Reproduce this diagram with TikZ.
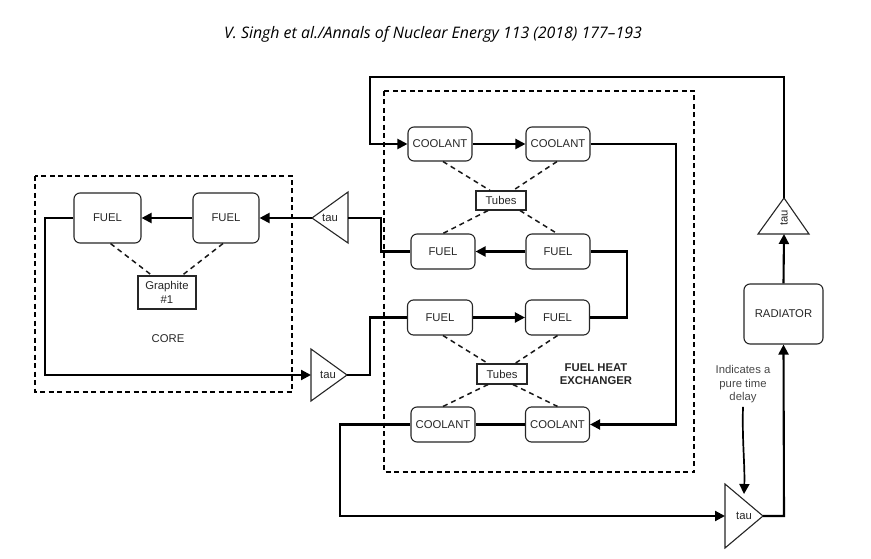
\documentclass[tikz,border=0pt]{standalone}
\usepackage{fontspec}
\setmainfont{Liberation Sans}
\newfontfamily\hdrfont{Open Sans}
\usetikzlibrary{arrows.meta,calc}
\begin{document}
\begin{tikzpicture}[x=1pt,y=-1pt,
  lab/.style={font=\fontsize{11.3}{13.5}\selectfont, text=black!85},
  rbox/.style={lab, draw=black!85, line width=1.1pt, rounded corners=6pt, inner sep=0pt, fill=white},
  sbox/.style={lab, draw=black!85, line width=1.1pt, inner sep=0pt, fill=white, align=center},
  flow/.style={line width=2.1pt, black},
  arr/.style={-{Triangle[length=10pt,width=10pt]}},
  region/.style={line width=2pt, dash pattern=on 5pt off 3.5pt},
  link/.style={line width=1.5pt, dash pattern=on 5pt off 4pt, black!90},
  tri/.style={draw=black!85, line width=1.1pt, fill=white},
]
\path[use as bounding box] (0,0) rectangle (871,559);

% header
\node[font=\hdrfont\itshape\fontsize{15.9}{17}\selectfont, text=black] (hdr) at (433,34)
  {V. Singh et al./Annals of Nuclear Energy 113 (2018) 177–193};

% regions
\draw[region] (35,176) rectangle (292,392);
\draw[region] (384,91) rectangle (694,472);

% core nodes
\node[rbox, minimum width=67pt, minimum height=50pt] (cF1) at (107.5,218) {FUEL};
\node[rbox, minimum width=66pt, minimum height=50pt] (cF2) at (226,218) {FUEL};
\node[sbox, minimum width=58pt, minimum height=33pt] (gr) at (167,292.5) {Graphite\\\#1};
\node[lab] (core) at (168,339) {CORE};

% heat exchanger nodes
\node[rbox, minimum width=64pt, minimum height=34pt] (C1) at (440,144) {COOLANT};
\node[rbox, minimum width=64pt, minimum height=34pt] (C2) at (558,144) {COOLANT};
\node[sbox, minimum width=50pt, minimum height=19pt] (T1) at (501,200.5) {Tubes};
\node[rbox, minimum width=64pt, minimum height=35pt] (F2L) at (443,251.5) {FUEL};
\node[rbox, minimum width=64pt, minimum height=35pt] (F2R) at (558,251.5) {FUEL};
\node[rbox, minimum width=65pt, minimum height=35pt] (F3L) at (440,317.5) {FUEL};
\node[rbox, minimum width=64pt, minimum height=35pt] (F3R) at (557.5,317.5) {FUEL};
\node[sbox, minimum width=50pt, minimum height=20pt] (T2) at (502,374) {Tubes};
\node[rbox, minimum width=64pt, minimum height=35pt] (C4L) at (443,424.5) {COOLANT};
\node[rbox, minimum width=64pt, minimum height=35pt] (C4R) at (557.5,424.5) {COOLANT};
\node[lab, font=\fontsize{11.3}{13}\selectfont\bfseries, align=center] (hxl) at (596,374.5) {FUEL HEAT\\EXCHANGER};

% radiator and note
\node[rbox, minimum width=79pt, minimum height=60pt] (rad) at (783.5,314) {RADIATOR};
\node[lab, align=center, text=black!72, font=\fontsize{11.3}{13.5}\selectfont] (note) at (743,384.5) {Indicates a\\pure time\\delay};

% tau triangles
\coordinate (tAapex) at (312,218); \coordinate (tAbase) at (348,218);
\draw[tri] (tAapex) -- (348,192) -- (348,243) -- cycle;
\node[lab] (tAl) at (330,218) {tau};

\coordinate (tBbase) at (311,375); \coordinate (tBapex) at (347,375);
\draw[tri] (tBapex) -- (311,349) -- (311,401) -- cycle;
\node[lab] (tBl) at (328,375) {tau};

\coordinate (tCbase) at (725,516); \coordinate (tCapex) at (763,516);
\draw[tri] (tCapex) -- (725,484) -- (725,548) -- cycle;
\node[lab] (tCl) at (744,516) {tau};
\coordinate (tCtop) at (744,494);

\coordinate (tDbase) at (784,234); \coordinate (tDapex) at (784,198);
\draw[tri] (tDapex) -- (758,234) -- (809,234) -- cycle;
\node[lab, rotate=90] (tDl) at (784,218) {tau};

% dashed links
\draw[link] ([xshift=3pt]cF1.south) -- ([xshift=-15pt]gr.north);
\draw[link] ([xshift=-3pt]cF2.south) -- ([xshift=15pt]gr.north);
\draw[link] ([xshift=3pt]C1.south) -- ([xshift=-11pt]T1.north);
\draw[link] ([xshift=-1pt]C2.south) -- ([xshift=12pt]T1.north);
\draw[link] ([xshift=-13pt]T1.south) -- (F2L.north);
\draw[link] ([xshift=19pt]T1.south) -- ([xshift=-1pt]F2R.north);
\draw[link] ([xshift=3pt]F3L.south) -- ([xshift=-14pt]T2.north);
\draw[link] (F3R.south) -- ([xshift=13pt]T2.north);
\draw[link] ([xshift=-14pt]T2.south) -- (C4L.north);
\draw[link] ([xshift=11pt]T2.south) -- (C4R.north);

% fuel loop
\draw[flow, arr] (tAapex) -- (cF2.east);
\draw[flow, arr] (cF2.west) -- (cF1.east);
\draw[flow, arr] (cF1.west) -- (45,218) -- (45,375) -- (tBbase);
\draw[flow] (tAbase) -- (381,218) -- (381,251.5) -- (F2L.west);
\draw[flow, arr] (F2R.west) -- (F2L.east);
\draw[flow] (F3R.east) -- (627,317.5) -- (627,251.5) -- (F2R.east);
\draw[flow] (tBapex) -- (370,375) -- (370,317.5) -- (F3L.west);
\draw[flow, arr] (F3L.east) -- (F3R.west);

% coolant loop
\draw[flow, arr] (C1.east) -- (C2.west);
\draw[flow, arr] (C2.east) -- (676,144) -- (676,424.5) -- (C4R.east);
\draw[flow] (C4R.west) -- (C4L.east);
\draw[flow, arr] (C4L.west) -- (340,424.5) -- (340,516) -- (tCbase);
\draw[flow, arr] (tCapex) -- (784,516) -- (rad.south);
\draw[flow, arr] (rad.north) -- (tDbase);
\draw[flow, arr] (tDapex) -- (784,77) -- (370,77) -- (370,144) -- (C1.west);

% note arrow
\draw[line width=1.7pt, arr] (note.south) .. controls (742,440) and (745,465) .. (tCtop);
\end{tikzpicture}
\end{document}
